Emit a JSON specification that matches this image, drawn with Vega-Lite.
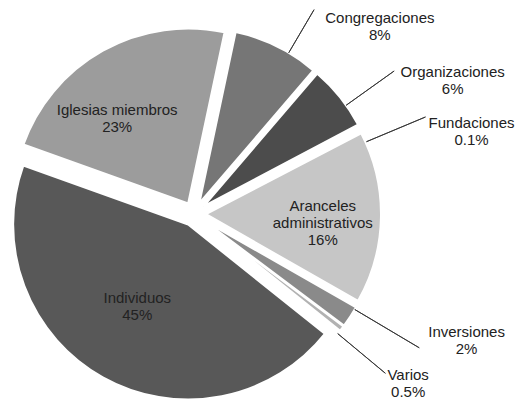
{
  "$schema": "https://vega.github.io/schema/vega-lite/v6.json",
  "width": 388,
  "height": 372,
  "autosize": {"type": "none"},
  "padding": {"left": 0, "top": 28, "right": 128, "bottom": 0},
  "background": "white",
  "config": {"view": {"stroke": null}},
  "data": {
    "values": [
      {"fuente": "Congregaciones", "pct": 8, "orden": 1},
      {"fuente": "Organizaciones", "pct": 6, "orden": 2},
      {"fuente": "Fundaciones", "pct": 0.1, "orden": 3},
      {"fuente": "Aranceles administrativos", "pct": 16, "orden": 4},
      {"fuente": "Inversiones", "pct": 2, "orden": 5},
      {"fuente": "Varios", "pct": 0.5, "orden": 6},
      {"fuente": "Individuos", "pct": 45, "orden": 7},
      {"fuente": "Iglesias miembros", "pct": 23, "orden": 8}
    ]
  },
  "transform": [
    {"stack": "pct", "groupby": [], "sort": [{"field": "orden", "order": "ascending"}], "as": ["t0", "t1"]},
    {"calculate": "(datum.t0 + datum.t1) / 2", "as": "tm"},
    {"calculate": "replace(datum.fuente, 'Aranceles ', 'Aranceles\\n') + '\\n' + datum.pct + '%'", "as": "etiqueta"}
  ],
  "layer": [
    {
      "mark": {
        "type": "arc",
        "outerRadius": 175,
        "stroke": "white",
        "strokeWidth": 2,
        "xOffset": {"expr": "12 * sin(0.2094 + datum.tm * 6.28319 / 100.6)"},
        "yOffset": {"expr": "-12 * cos(0.2094 + datum.tm * 6.28319 / 100.6)"}
      },
      "encoding": {
        "theta": {"field": "t0", "type": "quantitative", "scale": {"domain": [0, 100.6], "range": [0.2094, 6.4926]}},
        "theta2": {"field": "t1"},
        "color": {
          "field": "fuente",
          "type": "nominal",
          "legend": null,
          "scale": {
            "domain": ["Congregaciones", "Organizaciones", "Fundaciones", "Aranceles administrativos", "Inversiones", "Varios", "Individuos", "Iglesias miembros"],
            "range": ["#767676", "#4c4c4c", "#e2e2e2", "#c6c6c6", "#8a8a8a", "#b2b2b2", "#585858", "#9c9c9c"]
          }
        }
      }
    },
    {
      "transform": [{"filter": {"field": "fuente", "oneOf": ["Congregaciones", "Organizaciones", "Fundaciones", "Inversiones", "Varios"]}}],
      "mark": {
        "type": "arc",
        "filled": false,
        "color": "#333333",
        "strokeWidth": 0.9,
        "innerRadius": 187,
        "outerRadius": {"expr": "datum.fuente == 'Congregaciones' ? 237 : datum.fuente == 'Organizaciones' ? 246 : datum.fuente == 'Fundaciones' ? 251 : datum.fuente == 'Inversiones' ? 262 : 249"},
        "thetaOffset": {"expr": "datum.fuente == 'Congregaciones' ? 0.072 : datum.fuente == 'Organizaciones' ? 0.054 : datum.fuente == 'Fundaciones' ? 0.087 : datum.fuente == 'Inversiones' ? -0.045 : 0.035"},
        "theta2Offset": {"expr": "datum.fuente == 'Congregaciones' ? 0.072 : datum.fuente == 'Organizaciones' ? 0.054 : datum.fuente == 'Fundaciones' ? 0.087 : datum.fuente == 'Inversiones' ? -0.045 : 0.035"}
      },
      "encoding": {
        "theta": {"field": "tm", "type": "quantitative"},
        "theta2": {"field": "tm"}
      }
    },
    {
      "mark": {
        "type": "text",
        "font": "Liberation Sans",
        "fontSize": 15,
        "color": "#222222",
        "align": "center",
        "baseline": "middle",
        "lineBreak": "\n",
        "lineHeight": 17,
        "radius": {"expr": "datum.fuente == 'Congregaciones' ? 270 : datum.fuente == 'Organizaciones' ? 295 : datum.fuente == 'Fundaciones' ? 292 : datum.fuente == 'Inversiones' ? 297 : datum.fuente == 'Varios' ? 268 : datum.fuente == 'Iglesias miembros' ? 129 : datum.fuente == 'Individuos' ? 101 : 129"},
        "thetaOffset": {"expr": "datum.fuente == 'Congregaciones' ? 0.300 : datum.fuente == 'Organizaciones' ? 0.173 : datum.fuente == 'Fundaciones' ? 0.168 : datum.fuente == 'Inversiones' ? -0.173 : datum.fuente == 'Varios' ? -0.014 : datum.fuente == 'Iglesias miembros' ? -0.129 : datum.fuente == 'Individuos' ? 0.087 : -0.080"}
      },
      "encoding": {
        "theta": {"field": "tm", "type": "quantitative"},
        "text": {"field": "etiqueta", "type": "nominal"}
      }
    }
  ]
}
